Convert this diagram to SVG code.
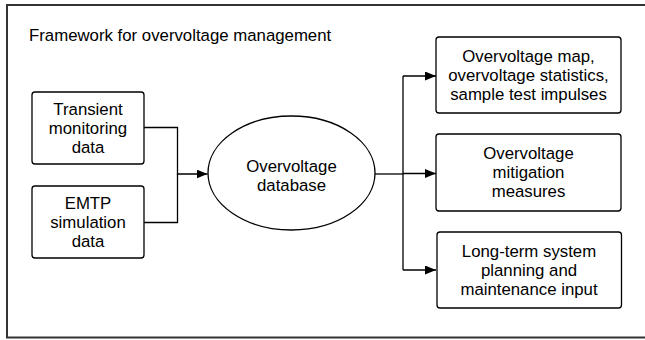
<svg xmlns="http://www.w3.org/2000/svg" width="645" height="340" viewBox="0 0 645 340">
  <style>
    .box { fill: #ffffff; stroke: #000000; stroke-width: 1.3; }
    .lbl { font-family: "Liberation Sans", Arial, sans-serif; font-size: 16.8px; fill: #000000; text-anchor: middle; }
    .title { font-family: "Liberation Sans", Arial, sans-serif; font-size: 16.8px; fill: #000000; }
    .conn { fill: none; stroke: #000000; stroke-width: 1.3; }
  </style>
  <defs>
    <marker id="arrow" markerWidth="11" markerHeight="9" refX="11" refY="4.5" orient="auto" markerUnits="userSpaceOnUse">
      <path d="M0,0 L11,4.5 L0,9 Z" fill="#000000"/>
    </marker>
  </defs>
  <rect width="645" height="340" fill="#ffffff"/>
  <rect id="frame" x="7" y="5" width="660" height="332.5" fill="none" stroke="#333333" stroke-width="2"/>
  <text class="title" x="29" y="40.5">Framework for overvoltage management</text>

  <g id="connectors">
    <path class="conn" d="M144,127.5 H177.5 V174 H207.5" marker-end="url(#arrow)"/>
    <path class="conn" d="M144,222.5 H177.5 V174"/>
    <path class="conn" d="M375,174 H403"/>
    <path class="conn" d="M403,76 V270"/>
    <path class="conn" d="M403,76 H436" marker-end="url(#arrow)"/>
    <path class="conn" d="M403,173.5 H436" marker-end="url(#arrow)"/>
    <path class="conn" d="M403,270 H436" marker-end="url(#arrow)"/>
  </g>

  <g id="transient">
    <rect class="box" x="32" y="92" width="112" height="72" rx="3"/>
    <text class="lbl" x="88" y="114.5">Transient</text>
    <text class="lbl" x="88" y="133.5">monitoring</text>
    <text class="lbl" x="88" y="152.5">data</text>
  </g>

  <g id="emtp">
    <rect class="box" x="32" y="186" width="112" height="72" rx="3"/>
    <text class="lbl" x="88" y="208.5">EMTP</text>
    <text class="lbl" x="88" y="227.5">simulation</text>
    <text class="lbl" x="88" y="246.5">data</text>
  </g>

  <g id="database">
    <ellipse class="box" cx="291.5" cy="173" rx="83.5" ry="57"/>
    <text class="lbl" x="291.5" y="171.5">Overvoltage</text>
    <text class="lbl" x="291.5" y="190.5">database</text>
  </g>

  <g id="map">
    <rect class="box" x="436" y="37" width="185" height="76" rx="3"/>
    <text class="lbl" x="528.5" y="61.5">Overvoltage map,</text>
    <text class="lbl" x="528.5" y="80.5">overvoltage statistics,</text>
    <text class="lbl" x="528.5" y="99.5">sample test impulses</text>
  </g>

  <g id="mitigation">
    <rect class="box" x="436" y="134" width="185" height="77" rx="3"/>
    <text class="lbl" x="528.5" y="159">Overvoltage</text>
    <text class="lbl" x="528.5" y="178">mitigation</text>
    <text class="lbl" x="528.5" y="197">measures</text>
  </g>

  <g id="planning">
    <rect class="box" x="437" y="232" width="184.5" height="76" rx="3"/>
    <text class="lbl" x="529" y="256.5">Long-term system</text>
    <text class="lbl" x="529" y="275.5">planning and</text>
    <text class="lbl" x="529" y="294.5">maintenance input</text>
  </g>
</svg>
